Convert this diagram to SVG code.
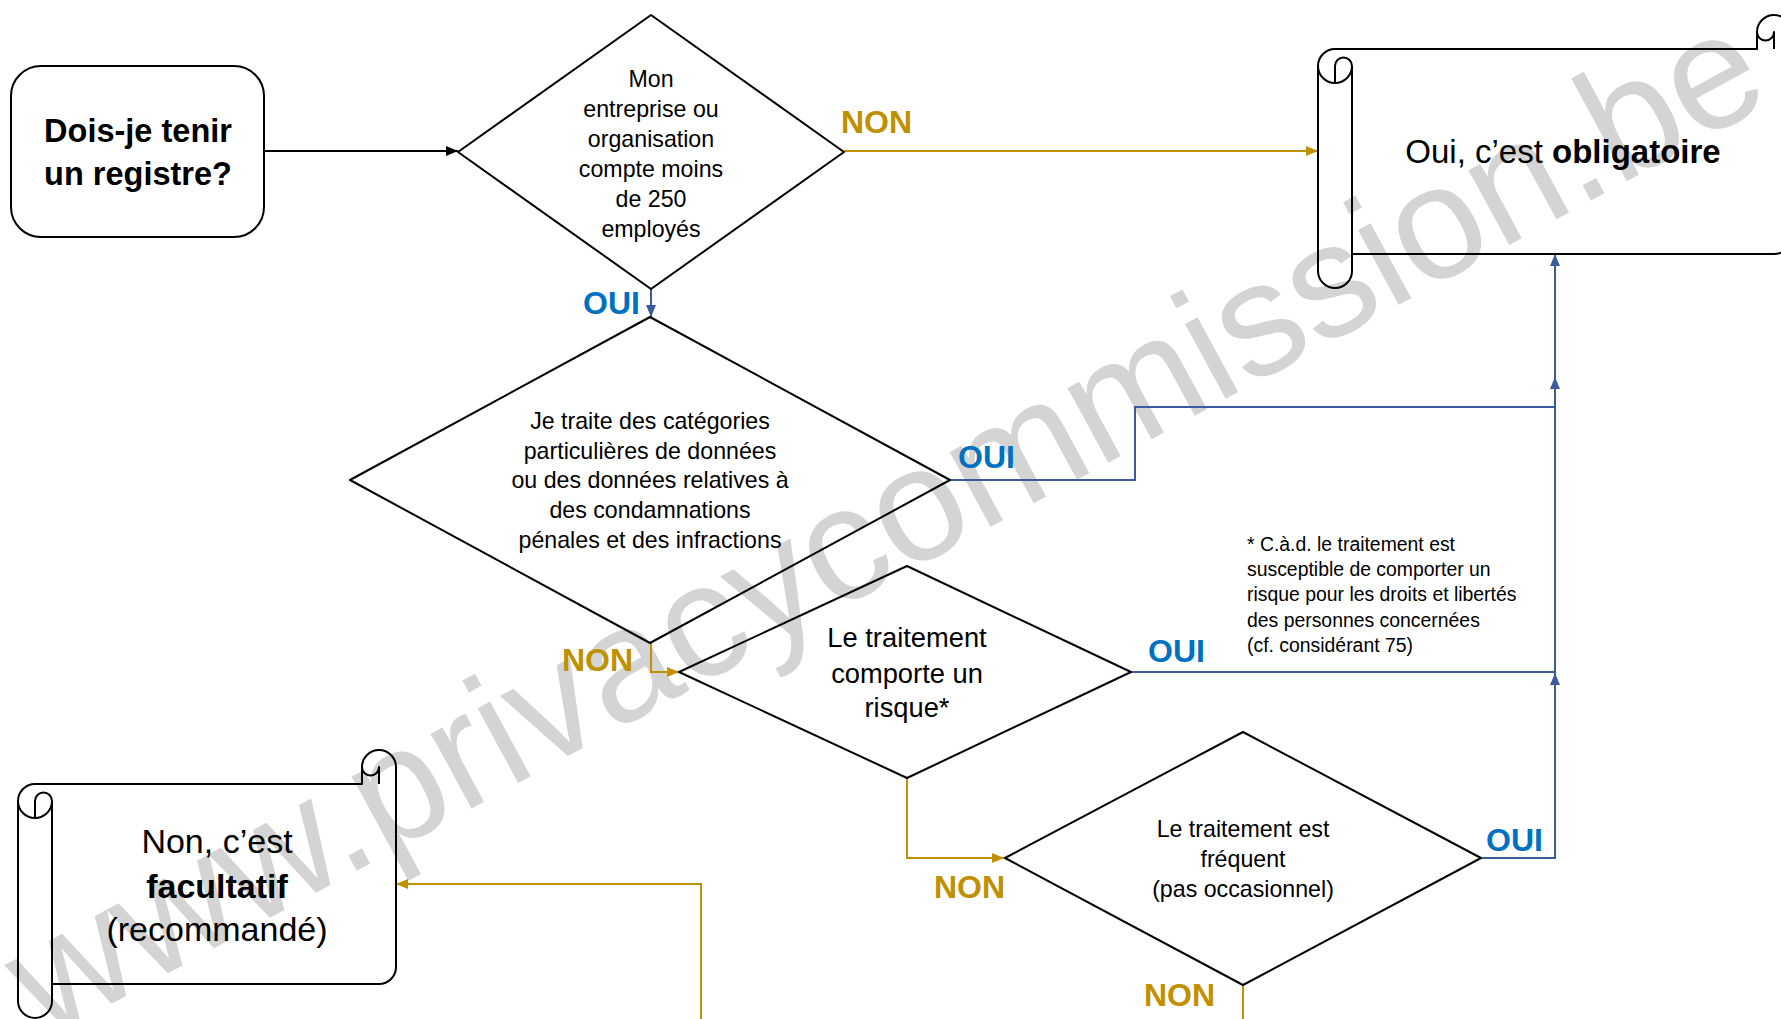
<svg xmlns="http://www.w3.org/2000/svg" width="1781" height="1019" viewBox="0 0 1781 1019">
<style>
  .shape { fill: none; stroke: #000; stroke-width: 2; stroke-linejoin: round; }
  .txt { font-family: "Liberation Sans", Arial, sans-serif; fill: #000; }
  .dtxt { font-size: 23.2px; text-anchor: middle; }
  .lbl { font-family: "Liberation Sans", Arial, sans-serif; font-weight: bold; font-size: 32px; }
  .non { fill: #BF9000; }
  .oui { fill: #0070C0; }
  .cblack { fill: none; stroke: #000; stroke-width: 2; }
  .cgold { fill: none; stroke: #BF9000; stroke-width: 2; }
  .cblue { fill: none; stroke: #3A5BA0; stroke-width: 2; }
  .wm { font-family: "Liberation Sans", Arial, sans-serif; font-size: 161px; fill: #D4D4D4; }
</style>
<defs>
  <marker id="arrBlack" markerUnits="userSpaceOnUse" markerWidth="13" markerHeight="11" refX="12" refY="5" orient="auto"><path d="M0,0 L12,5 L0,10 Z" fill="#000"/></marker>
  <marker id="arrGold" markerUnits="userSpaceOnUse" markerWidth="13" markerHeight="11" refX="12" refY="5" orient="auto"><path d="M0,0 L12,5 L0,10 Z" fill="#BF9000"/></marker>
  <marker id="arrBlue" markerUnits="userSpaceOnUse" markerWidth="13" markerHeight="11" refX="12" refY="5" orient="auto"><path d="M0,0 L12,5 L0,10 Z" fill="#3A5BA0"/></marker>
</defs>
<rect x="0" y="0" width="1781" height="1019" fill="#fff"/>

<g id="watermark">
  <text class="wm" x="45" y="1040" transform="rotate(-28.5 45 1040)">www.privacycommission.be</text>
</g>

<g id="connectors">
  <path class="cblack" d="M264,151 L458,151" marker-end="url(#arrBlack)"/>
  <path class="cgold" d="M844,151 L1318,151" marker-end="url(#arrGold)"/>
  <path class="cblue" d="M651,289 L651,317" marker-end="url(#arrBlue)"/>
  <path class="cblue" d="M950,480 L1135,480 L1135,407 L1555,407 L1555,254" marker-end="url(#arrBlue)"/>
  <path class="cblue" d="M1131,672 L1555,672 L1555,377" marker-end="url(#arrBlue)"/>
  <path class="cblue" d="M1482,858 L1555,858 L1555,673" marker-end="url(#arrBlue)"/>
  <path class="cgold" d="M651,643 L651,672 L679,672" marker-end="url(#arrGold)"/>
  <path class="cgold" d="M907,779 L907,858 L1004,858" marker-end="url(#arrGold)"/>
  <path class="cgold" d="M1243,985 L1243,1045 L701,1045 L701,884 L396,884" marker-end="url(#arrGold)"/>
  <text class="lbl non" x="841" y="133">NON</text>
  <text class="lbl oui" x="583" y="314">OUI</text>
  <text class="lbl oui" x="958" y="468">OUI</text>
  <text class="lbl non" x="562" y="671">NON</text>
  <text class="lbl oui" x="1148" y="662">OUI</text>
  <text class="lbl non" x="934" y="898">NON</text>
  <text class="lbl oui" x="1486" y="851">OUI</text>
  <text class="lbl non" x="1144" y="1006">NON</text>
</g>

<g id="start">
  <rect class="shape" x="11" y="66" width="253" height="171" rx="30" ry="30"/>
  <text class="txt" font-weight="bold" font-size="32.5" text-anchor="middle"><tspan x="138" y="142">Dois-je tenir</tspan><tspan x="138" y="185">un registre?</tspan></text>
</g>

<g id="q-employes">
  <path class="shape" d="M651,15 L844,152 L651,289 L458,152 Z"/>
  <text class="txt dtxt"><tspan x="651" y="87">Mon</tspan><tspan x="651" y="117">entreprise ou</tspan><tspan x="651" y="147">organisation</tspan><tspan x="651" y="177">compte moins</tspan><tspan x="651" y="207">de 250</tspan><tspan x="651" y="237">employés</tspan></text>
</g>

<g id="q-categories">
  <path class="shape" d="M650,317 L950,480 L650,643 L350,480 Z"/>
  <text class="txt dtxt"><tspan x="650" y="429">Je traite des catégories</tspan><tspan x="650" y="459">particulières de données</tspan><tspan x="650" y="488">ou des données relatives à</tspan><tspan x="650" y="518">des condamnations</tspan><tspan x="650" y="548">pénales et des infractions</tspan></text>
</g>

<g id="q-risque">
  <path class="shape" d="M907,566 L1131,672 L907,778 L679,672 Z"/>
  <text class="txt" font-size="27.3" text-anchor="middle"><tspan x="907" y="647">Le traitement</tspan><tspan x="907" y="683">comporte un</tspan><tspan x="907" y="717">risque*</tspan></text>
</g>

<g id="q-frequent">
  <path class="shape" d="M1243,732 L1481,858 L1243,985 L1005,858 Z"/>
  <text class="txt dtxt"><tspan x="1243" y="837">Le traitement est</tspan><tspan x="1243" y="867">fréquent</tspan><tspan x="1243" y="897">(pas occasionnel)</tspan></text>
</g>

<g id="footnote">
  <text class="txt" font-size="19.4"><tspan x="1247" y="551">* C.à.d. le traitement est</tspan><tspan x="1247" y="576">susceptible de comporter un</tspan><tspan x="1247" y="601">risque pour les droits et libertés</tspan><tspan x="1247" y="627">des personnes concernées</tspan><tspan x="1247" y="652">(cf. considérant 75)</tspan></text>
</g>

<g id="result-obligatoire">
  <path class="shape" d="M1318,66 A17,17 0 0 1 1335,49 L1757,49 L1757,32 A17,17 0 0 1 1791,32 L1791,237 A17,17 0 0 1 1774,254 L1352,254 L1352,271 A17,17 0 0 1 1318,271 Z"/>
  <path class="shape" d="M1774,49 L1774,32 A8.5,8.5 0 0 1 1757,32 M1335,83 L1335,66 A8.5,8.5 0 0 1 1352,66 A17,17 0 0 1 1318,66 M1352,66 L1352,254"/>
  <text class="txt" font-size="33" text-anchor="middle" x="1563" y="163">Oui, c’est <tspan font-weight="bold">obligatoire</tspan></text>
</g>

<g id="result-facultatif">
  <path class="shape" d="M18,801 A17,17 0 0 1 35,784 L362,784 L362,767 A17,17 0 0 1 396,767 L396,967 A17,17 0 0 1 379,984 L52,984 L52,1001 A17,17 0 0 1 18,1001 Z"/>
  <path class="shape" d="M379,784 L379,767 A8.5,8.5 0 0 1 362,767 M35,818 L35,801 A8.5,8.5 0 0 1 52,801 A17,17 0 0 1 18,801 M52,801 L52,984"/>
  <text class="txt" font-size="34" text-anchor="middle"><tspan x="217" y="853">Non, c’est</tspan><tspan x="217" y="898" font-weight="bold">facultatif</tspan><tspan x="217" y="941">(recommandé)</tspan></text>
</g>
</svg>
